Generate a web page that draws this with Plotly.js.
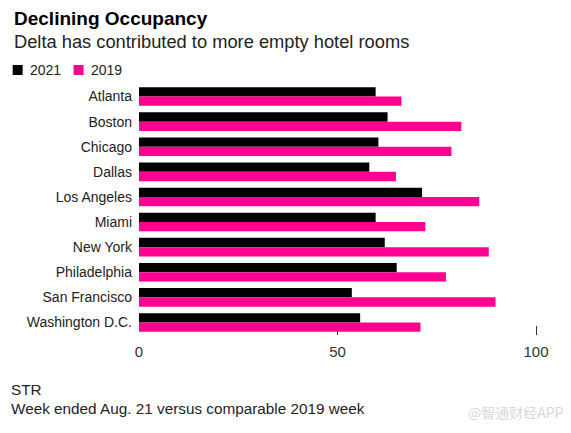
<!DOCTYPE html>
<html>
<head>
<meta charset="utf-8">
<script src="https://cdn.plot.ly/plotly-3.0.1.min.js"></script>
<style>html,body{margin:0;padding:0;background:#fff;}#chart{width:571px;height:433px;}</style>
</head>
<body>
<div id="chart"></div>
<script>
const cities = ["Atlanta", "Boston", "Chicago", "Dallas", "Los Angeles", "Miami", "New York", "Philadelphia", "San Francisco", "Washington D.C."];
const occ2021 = [59.6, 62.6, 60.3, 58.0, 71.3, 59.6, 61.9, 64.9, 53.6, 55.7];
const occ2019 = [66.1, 81.2, 78.7, 64.7, 85.7, 72.1, 88.1, 77.3, 89.8, 70.9];
const xTicks = [0, 50, 100];
const xTickText = ["0", "50", "100"];

const W = 571, H = 433;
const L = 138.5, R = 31, T = 84, B = 98;
const pw = W - L - R, ph = H - T - B;
const px = x => (x - L) / pw;
const py = y => (H - B - y) / ph;

const FONT = "Liberation Sans, Arial, sans-serif";
const black = "#000000", pink = "#ff0090";

const traces = [
  {type: "bar", orientation: "h", name: "2021", y: cities, x: occ2021,
   marker: {color: black, line: {width: 0}}, hoverinfo: "x+y", showlegend: false},
  {type: "bar", orientation: "h", name: "2019", y: cities, x: occ2019,
   marker: {color: pink, line: {width: 0}}, hoverinfo: "x+y", showlegend: false}
];

const layout = {
  width: W, height: H,
  margin: {l: L, r: R, t: T, b: B, pad: 0},
  paper_bgcolor: "#fff", plot_bgcolor: "rgba(0,0,0,0)",
  barmode: "group", bargap: 0.26, bargroupgap: 0,
  font: {family: FONT, size: 14, color: "#222"},
  xaxis: {range: [0, 101], tickvals: xTicks, ticktext: xTickText,
          ticks: "inside", ticklen: 9, tickwidth: 1, tickcolor: "#333",
          showgrid: false, zeroline: false, showline: false, layer: "below traces",
          tickfont: {family: FONT, size: 15, color: "#333"}, ticklabelstandoff: 6, fixedrange: true},
  yaxis: {type: "category", autorange: "reversed", showgrid: false, zeroline: false,
          showline: false, ticks: "", tickfont: {family: FONT, size: 14, color: "#222"},
          ticklabelstandoff: 6, fixedrange: true},
  shapes: [
    {type: "rect", xref: "paper", yref: "paper", x0: px(12), x1: px(22), y0: py(75), y1: py(65), fillcolor: black, line: {width: 0}},
    {type: "rect", xref: "paper", yref: "paper", x0: px(73), x1: px(83), y0: py(75), y1: py(65), fillcolor: pink, line: {width: 0}}
  ],
  annotations: [
    {text: "<b>Declining Occupancy</b>", xref: "paper", yref: "paper", x: px(11), y: py(18), xanchor: "left", yanchor: "middle", showarrow: false, font: {family: FONT, size: 19, color: "#000"}},
    {text: "Delta has contributed to more empty hotel rooms", xref: "paper", yref: "paper", x: px(11), y: py(42), xanchor: "left", yanchor: "middle", showarrow: false, font: {family: FONT, size: 18.3, color: "#222"}},
    {text: "2021", xref: "paper", yref: "paper", x: px(27), y: py(70), xanchor: "left", yanchor: "middle", showarrow: false, font: {family: FONT, size: 14, color: "#222"}},
    {text: "2019", xref: "paper", yref: "paper", x: px(88), y: py(70), xanchor: "left", yanchor: "middle", showarrow: false, font: {family: FONT, size: 14, color: "#222"}},
    {text: "STR", xref: "paper", yref: "paper", x: px(8), y: py(389), xanchor: "left", yanchor: "middle", showarrow: false, font: {family: FONT, size: 15.3, color: "#222"}},
    {text: "Week ended Aug. 21 versus comparable 2019 week", xref: "paper", yref: "paper", x: px(8), y: py(408), xanchor: "left", yanchor: "middle", showarrow: false, font: {family: FONT, size: 15.3, color: "#222"}},
    {text: "@智通财经APP", xref: "paper", yref: "paper", x: px(566), y: py(412), xanchor: "right", yanchor: "middle", showarrow: false, font: {family: "Noto Sans CJK SC, sans-serif", size: 14, color: "#d8d8d8"}}
  ]
};

Plotly.newPlot("chart", traces, layout, {displayModeBar: false, staticPlot: true});
</script>
</body>
</html>
